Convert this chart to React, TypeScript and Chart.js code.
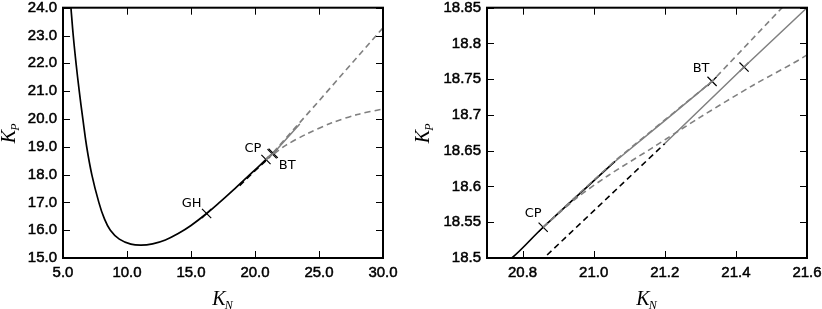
import React, { useEffect, useRef } from "react";
import { Chart, registerables } from "chart.js";
Chart.register(...registerables);

// ---- data ----
// stable main branch (black solid)
const mainKN = [5.62, 5.8, 6.02, 6.27, 6.55, 6.85, 7.25, 7.8, 8.2, 8.7, 9.4, 10.3, 11.1, 12.0, 13.0, 14.0, 15.0, 16.22, 17.3, 18.57, 19.7, 20.77, 20.858, 21.06];
const mainKP = [24.0, 23.0, 22.0, 21.0, 20.0, 19.0, 18.0, 17.0, 16.45, 16.0, 15.68, 15.5, 15.46, 15.51, 15.65, 15.88, 16.17, 16.6, 17.03, 17.56, 18.04, 18.5, 18.543, 18.635];
// unstable branch (black dashed)
const unstableKN = [18.8, 19.8, 20.86, 21.2];
const unstableKP = [17.6, 18.05, 18.5, 18.66];
// grey solid branch to BT
const upperSolidKN = [21.06, 21.2, 21.333];
const upperSolidKP = [18.635, 18.692, 18.747];
// grey solid branch through second cross
const lowerSolidKN = [21.2, 21.423, 21.6, 23.5];
const lowerSolidKP = [18.66, 18.767, 18.85, 19.82];
// grey dashed upper branch
const upperDashKN = [20.858, 20.95, 21.06, 21.2, 21.333, 21.53, 25.0, 30.0];
const upperDashKP = [18.543, 18.586, 18.636, 18.693, 18.747, 18.85, 20.65, 23.28];
// grey dashed lower branch
const lowerDashKN = [20.858, 20.95, 21.04, 21.165, 21.3, 21.45, 21.6, 22.4, 24.0, 26.0, 28.0, 30.0];
const lowerDashKP = [18.543, 18.583, 18.615, 18.654, 18.697, 18.742, 18.784, 19.05, 19.45, 19.86, 20.16, 20.36];
// special points (crosses)
const markerNames = ["GH", "CP", "BT", "BT2"];
const markerKN = [16.22, 20.858, 21.333, 21.423];
const markerKP = [16.6, 18.543, 18.747, 18.767];

// axis ranges / ticks
const leftX = { min: 5, max: 30, step: 5 };
const leftY = { min: 15, max: 24, step: 1 };
const rightX = { min: 20.7, max: 21.6, step: 0.2 };
const rightY = { min: 18.5, max: 18.85, step: 0.05 };

const GREY = "#808080";

const pts = (xs: number[], ys: number[]) => xs.map((x, i) => ({ x, y: ys[i] }));

function datasets() {
  const base = { pointRadius: 0, fill: false, tension: 0 };
  return [
    { ...base, data: pts(upperDashKN, upperDashKP), borderColor: GREY, borderWidth: 1.6, borderDash: [6, 4] },
    { ...base, data: pts(lowerDashKN, lowerDashKP), borderColor: GREY, borderWidth: 1.6, borderDash: [6, 4], tension: 0.3 },
    { ...base, data: pts(upperSolidKN, upperSolidKP), borderColor: GREY, borderWidth: 1.5 },
    { ...base, data: pts(lowerSolidKN, lowerSolidKP), borderColor: GREY, borderWidth: 1.5 },
    { ...base, data: pts(unstableKN, unstableKP), borderColor: "#000", borderWidth: 1.6, borderDash: [6, 4] },
    { ...base, data: pts(mainKN, mainKP), borderColor: "#000", borderWidth: 1.7, tension: 0.4 },
    {
      data: pts(markerKN, markerKP),
      showLine: false,
      pointStyle: "crossRot",
      pointRadius: 6.5,
      pointBorderWidth: 1.2,
      pointBorderColor: "#000",
      borderColor: "#000",
      backgroundColor: "#000",
    },
  ];
}

type Lbl = { text: string; idx: number; dx: number; dy: number };

const frameTicksPlugin = {
  id: "frameTicks",
  afterDatasetsDraw(chart: any) {
    const { ctx, chartArea: a, scales } = chart;
    ctx.save();
    ctx.strokeStyle = "#000";
    ctx.lineWidth = 1;
    const tl = 7;
    scales.x.ticks.forEach((t: any) => {
      const p = Math.round(scales.x.getPixelForValue(t.value)) + 0.5;
      ctx.beginPath();
      ctx.moveTo(p, a.bottom);
      ctx.lineTo(p, a.bottom - tl);
      ctx.moveTo(p, a.top);
      ctx.lineTo(p, a.top + tl);
      ctx.stroke();
    });
    scales.y.ticks.forEach((t: any) => {
      const p = Math.round(scales.y.getPixelForValue(t.value)) + 0.5;
      ctx.beginPath();
      ctx.moveTo(a.left, p);
      ctx.lineTo(a.left + tl, p);
      ctx.moveTo(a.right, p);
      ctx.lineTo(a.right - tl, p);
      ctx.stroke();
    });
    ctx.lineWidth = 2;
    ctx.strokeRect(a.left, a.top, a.right - a.left, a.bottom - a.top);
    ctx.restore();
  },
};

function drawSub(ctx: CanvasRenderingContext2D, main: string, sub: string) {
  const f1 = 'italic 20px "Liberation Serif"';
  const f2 = 'italic 12px "Liberation Serif"';
  ctx.font = f1;
  const w1 = ctx.measureText(main).width;
  ctx.font = f2;
  const w2 = ctx.measureText(sub).width;
  const x0 = -(w1 + w2) / 2;
  ctx.textBaseline = "alphabetic";
  ctx.textAlign = "left";
  ctx.font = f1;
  ctx.fillText(main, x0, 6);
  ctx.font = f2;
  ctx.fillText(sub, x0 + w1 - 1, 10);
}

function makeChart(canvas: HTMLCanvasElement, xr: any, yr: any, xFmt: (v: number) => string, yFmt: (v: number) => string, yWidth: number, padRight: number, labels: Lbl[], yTitleX: number) {
  const annotPlugin = {
    id: "annot",
    afterDraw(chart: any) {
      const { ctx, chartArea: a, scales } = chart;
      ctx.save();
      ctx.fillStyle = "#000";
      ctx.font = '13px "DejaVu Sans"';
      ctx.textAlign = "center";
      ctx.textBaseline = "middle";
      labels.forEach((l) => {
        const px = scales.x.getPixelForValue(markerKN[l.idx]);
        const py = scales.y.getPixelForValue(markerKP[l.idx]);
        ctx.fillText(l.text, px + l.dx, py + l.dy);
      });
      // x title
      ctx.save();
      ctx.translate((a.left + a.right) / 2, 299);
      drawSub(ctx, "K", "N");
      ctx.restore();
      // y title
      ctx.save();
      ctx.translate(yTitleX, (a.top + a.bottom) / 2);
      ctx.rotate(-Math.PI / 2);
      drawSub(ctx, "K", "P");
      ctx.restore();
      ctx.restore();
    },
  };
  const tickFont = { family: '"Liberation Sans"', size: 15 };
  const tickCommon = { color: "#000", font: tickFont, padding: 6, textStrokeColor: "#000", textStrokeWidth: 0.5 };
  return new Chart(canvas, {
    type: "line",
    data: { datasets: datasets() as any },
    options: {
      animation: false,
      responsive: false,
      devicePixelRatio: 1,
      layout: { padding: { left: 0, top: 6, right: padRight, bottom: 0 } },
      plugins: { legend: { display: false }, tooltip: { enabled: false } },
      scales: {
        x: {
          type: "linear",
          min: xr.min,
          max: xr.max,
          grid: { display: false, drawTicks: false },
          border: { display: false },
          ticks: { ...tickCommon, stepSize: xr.step, includeBounds: false, callback: (v: any) => xFmt(Number(v)), maxRotation: 0 },
          afterFit: (s: any) => {
            s.height = 51;
            s.paddingLeft = 0;
            s.paddingRight = 0;
          },
        },
        y: {
          type: "linear",
          min: yr.min,
          max: yr.max,
          grid: { display: false, drawTicks: false },
          border: { display: false },
          ticks: { ...tickCommon, stepSize: yr.step, includeBounds: false, callback: (v: any) => yFmt(Number(v)) },
          afterFit: (s: any) => {
            s.width = yWidth;
            s.paddingTop = 0;
            s.paddingBottom = 0;
          },
        },
      },
    } as any,
    plugins: [frameTicksPlugin, annotPlugin],
  });
}

const leftLabels: Lbl[] = [
  { text: "GH", idx: 0, dx: -15, dy: -10 },
  { text: "CP", idx: 1, dx: -13, dy: -11 },
  { text: "BT", idx: 3, dx: 14, dy: 12 },
];
const rightLabels: Lbl[] = [
  { text: "CP", idx: 1, dx: -10, dy: -14 },
  { text: "BT", idx: 2, dx: -11, dy: -13 },
];

export default function App() {
  const leftRef = useRef<HTMLCanvasElement>(null);
  const rightRef = useRef<HTMLCanvasElement>(null);
  useEffect(() => {
    const c1 = makeChart(leftRef.current!, leftX, leftY, (v) => v.toFixed(1), (v) => v.toFixed(1), 63, 17, leftLabels, 9);
    const c2 = makeChart(
      rightRef.current!,
      rightX,
      rightY,
      (v) => v.toFixed(1),
      (v) => String(parseFloat(v.toFixed(2))),
      87,
      15,
      rightLabels,
      23
    );
    return () => {
      c1.destroy();
      c2.destroy();
    };
  }, []);
  return (
    <div style={{ position: "fixed", left: 0, top: 0, width: 822, height: 309, background: "#fff" }}>
      <canvas ref={leftRef} width={400} height={309} style={{ position: "absolute", left: 0, top: 0, width: 400, height: 309 }} />
      <canvas ref={rightRef} width={422} height={309} style={{ position: "absolute", left: 400, top: 0, width: 422, height: 309 }} />
    </div>
  );
}
